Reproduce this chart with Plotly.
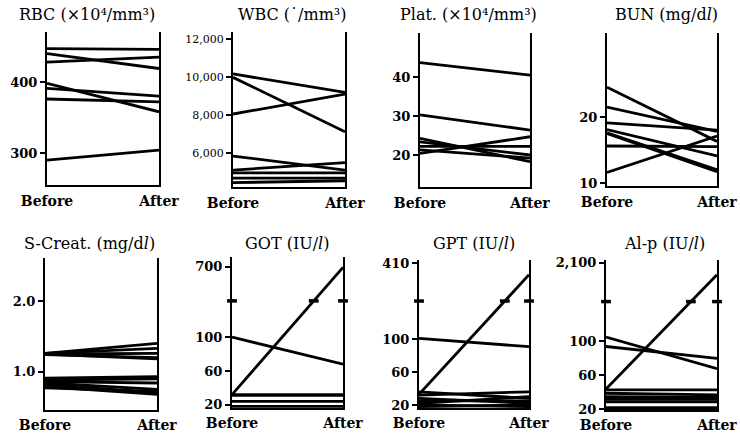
import numpy as np
import plotly.graph_objects as go

x_labels = ["Before", "After"]

# ---- data ----
rbc_before = [447, 440, 428, 398, 391, 376, 290]
rbc_after = [446, 419, 435, 358, 380, 372, 304]

wbc_before = [10160, 9980, 8050, 5840, 5100, 4950, 4680, 4440]
wbc_after = [9190, 7120, 9100, 5100, 5490, 4950, 4680, 4540]

plat_before = [43.7, 30.3, 24.3, 23.4, 22.2, 20.4, 21.3]
plat_after = [40.5, 26.4, 18.3, 20.0, 22.2, 24.7, 19.2]

bun_before = [24.5, 21.5, 19.1, 18.1, 17.6, 15.6, 11.6, 17.5]
bun_after = [16.3, 17.8, 18.0, 14.1, 12.0, 15.5, 17.1, 11.7]

cre_before = [1.26, 1.26, 1.25, 1.24, 1.25, 0.91, 0.88, 0.86, 0.84, 0.82, 0.79, 0.77]
cre_after = [1.40, 1.33, 1.26, 1.20, 1.18, 0.93, 0.90, 0.84, 0.75, 0.70, 0.68, 0.72]

got_before = [100, 32, 32, 31, 24, 18]
got_after = [68, 690, 32, 31, 24, 18]

gpt_before = [101, 33, 36, 32, 28, 25, 22, 20, 18]
gpt_after = [91, 330, 28, 36, 22, 25, 30, 18, 20]

alp_before = [105, 94, 44, 43, 39, 35, 32, 29, 22, 19.5]
alp_after = [68, 80, 1500, 43, 37, 34, 32, 29, 22, 19.5]

titles = ["RBC (×10⁴/mm³)", "WBC (˙/mm³)", "Plat. (×10⁴/mm³)", "BUN (mg/d<i>l</i>)",
          "S-Creat. (mg/d<i>l</i>)", "GOT (IU/<i>l</i>)", "GPT (IU/<i>l</i>)", "Al-p (IU/<i>l</i>)"]

W, H = 740, 439
FONT = "DejaVu Serif"

# panel geometry in pixels: left, right, top, bottom ; title centre x, y
geom = [
    (47, 159, 32, 185, 87, 15),
    (233, 345, 32, 187, 292, 15),
    (420, 530, 33, 187, 468, 15),
    (607, 717, 33, 186, 666, 15),
    (45, 157, 258, 410, 89, 243),
    (232, 343, 257, 408, 287, 243),
    (419, 529, 260, 408, 474, 243),
    (606, 717, 260, 410, 664, 243),
]
yranges = [(254.9, 470.4), (4210, 12368), (11.8, 51.3), (9.55, 32.7),
           (0.458, 2.608), (16.1, 195), (16.3, 196.6), (19.3, 195.7)]

# broken-axis scale: identity below break, compressed above
breaks = {5: (143.0, 700, 183.5), 6: (146.6, 410, 192.6), 7: (146.8, 2100, 192.5)}


def brk(v, b):
    B, tv, td = b
    v = np.asarray(v, dtype=float)
    return np.where(v <= B, v, B + (v - B) * (td - B) / (tv - B))


befores = [rbc_before, wbc_before, plat_before, bun_before, cre_before, got_before, gpt_before, alp_before]
afters = [rbc_after, wbc_after, plat_after, bun_after, cre_after, got_after, gpt_after, alp_after]
tickvals = [[300, 400], [6000, 8000, 10000, 12000], [20, 30, 40], [10, 20], [1.0, 2.0],
            [20, 60, 100, 700], [20, 60, 100, 410], [20, 60, 100, 2100]]
ticktexts = [["300", "400"], ["6,000", "8,000", "10,000", "12,000"], ["20", "30", "40"], ["10", "20"],
             ["1.0", "2.0"], ["20", "60", "100", "700"], ["20", "60", "100", "410"],
             ["20", "60", "100", "2,100"]]

fig = go.Figure()
annotations = []
for i in range(8):
    L, R, T, Bt, tx, ty = geom[i]
    n = "" if i == 0 else str(i + 1)
    xa, ya = "x" + n, "y" + n
    b = breaks.get(i)
    for bv, av in zip(befores[i], afters[i]):
        ys = [bv, av] if b is None else list(brk([bv, av], b))
        fig.add_trace(go.Scatter(x=[0, 1], y=ys, mode="lines", xaxis=xa, yaxis=ya,
                                 line=dict(color="black", width=2.8), showlegend=False,
                                 hoverinfo="skip"))
    tv = tickvals[i] if b is None else list(brk(tickvals[i], b))
    if b is not None:
        # break marks on both axes and on the line crossing the break
        mx = [0, 1]
        my = [b[0], b[0]]
        for bv, av in zip(befores[i], afters[i]):
            d0, d1 = brk([bv, av], b)
            if d1 > b[0] > d0:
                mx.append((b[0] - d0) / (d1 - d0))
                my.append(b[0])
        fig.add_trace(go.Scatter(x=mx, y=my, mode="markers", xaxis=xa, yaxis=ya,
                                 marker=dict(symbol="line-ew", size=7,
                                             line=dict(color="black", width=3.5)),
                                 showlegend=False, hoverinfo="skip", cliponaxis=False))
    row1 = i < 4
    fig.layout["xaxis" + n] = dict(
        domain=[L / W, R / W], range=[0, 1], anchor=ya, automargin=False,
        tickvals=[0, 1], ticktext=x_labels, ticks="outside",
        ticklen=2 if row1 else 1, tickcolor="rgba(0,0,0,0)",
        showline=True, linecolor="black", linewidth=2, showgrid=False, zeroline=False,
        tickfont=dict(family=FONT, size=14, color="black", weight="bold"),
        fixedrange=True)
    fig.layout["yaxis" + n] = dict(
        domain=[1 - Bt / H, 1 - T / H], range=list(yranges[i]), anchor=xa, automargin=False,
        tickvals=tv, ticktext=ticktexts[i], ticks="outside", ticklen=5, tickwidth=2,
        tickcolor="black", showline=True, mirror=True, linecolor="black", linewidth=2,
        showgrid=False, zeroline=False,
        tickfont=dict(family=FONT, size=11 if i == 1 else 13, color="black",
                      weight="normal" if i == 1 else "bold"),
        fixedrange=True)
    annotations.append(dict(text=titles[i], x=tx / W, y=1 - ty / H, xref="paper", yref="paper",
                            xanchor="center", yanchor="middle", showarrow=False,
                            font=dict(family=FONT, size=16, color="black")))

fig.update_layout(width=W, height=H, margin=dict(l=0, r=0, t=0, b=0, autoexpand=False),
                  paper_bgcolor="white", plot_bgcolor="white",
                  annotations=annotations)
fig.write_html("out.html", config={"displayModeBar": False},
               post_script="document.body.style.margin='0';document.body.style.overflow='hidden';")
